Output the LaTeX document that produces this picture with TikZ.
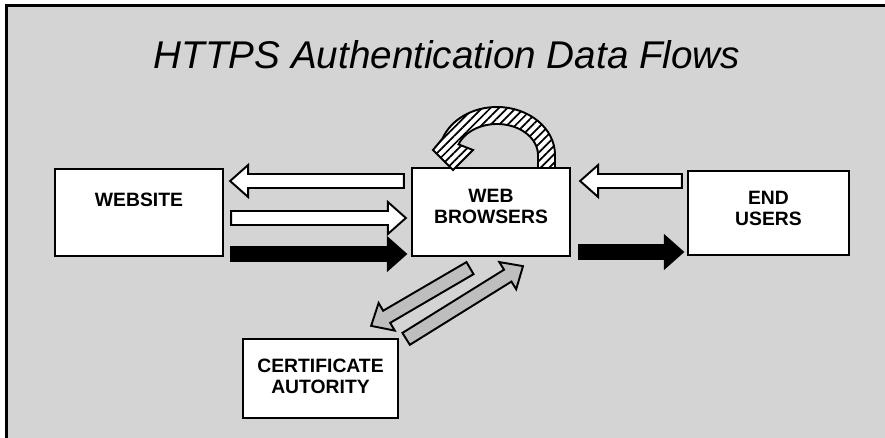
\documentclass[tikz,border=0pt]{standalone}
\usepackage{fontspec}
\setmainfont{Liberation Sans}
\usepackage{tikz}
\usetikzlibrary{calc,patterns.meta}

\definecolor{bggray}{RGB}{212,212,212}
\definecolor{flowgray}{RGB}{190,190,190}

\newcommand*{\shaftw}{0.14cm}
\newcommand*{\headw}{0.32cm}
\newcommand*{\headl}{0.36cm}
\newcommand{\blockarrow}[3][]{%
  \coordinate (ba-h) at ($(#3)!\headl!(#2)$);
  \draw[flow,#1] ($(#2)!\shaftw!90:(#3)$) -- ($(ba-h)!\shaftw!90:(#3)$)
    -- ($(ba-h)!\headw!90:(#3)$) -- (#3) -- ($(ba-h)!\headw!-90:(#3)$)
    -- ($(ba-h)!\shaftw!-90:(#3)$) -- ($(#2)!\shaftw!-90:(#3)$) -- cycle;}

\begin{document}
\begin{tikzpicture}[x=0.02cm, y=-0.02cm,
    box/.style={draw, fill=white, line width=1.3pt, inner sep=0pt},
    boxtext/.style={font=\bfseries\fontsize{11}{12}\selectfont, align=center},
    flow/.style={draw, line width=1.1pt, line join=miter}]
  \useasboundingbox (0,0) rectangle (885,438);
  \fill[bggray] (5,4) rectangle (885,438);
  \draw[line width=1.7pt] (6.5,438) -- (6.5,5.5) -- (885,5.5);
  \node[font=\itshape\fontsize{22}{26}\selectfont] (title) at (447,55) {HTTPS Authentication Data Flows};

  \node[box, minimum width=3.36cm, minimum height=1.74cm] (website) at (139,212.5) {};
  \node[box, minimum width=3.16cm, minimum height=1.76cm] (browser) at (491,212) {};
  \node[box, minimum width=3.22cm, minimum height=1.68cm] (users) at (768.5,213) {};
  \node[box, minimum width=3.1cm, minimum height=1.58cm] (ca) at (320.5,378.5) {};
  \node[boxtext] (website-txt) at ([yshift=0.25cm]website.center) {WEBSITE};
  \node[boxtext] (browser-txt) at ([yshift=0.11cm]browser.center) {WEB\\BROWSERS};
  \node[boxtext] (users-txt) at ([yshift=0.09cm]users.center) {END\\USERS};
  \node[boxtext] (ca-txt) at ([yshift=0.05cm]ca.center) {CERTIFICATE\\AUTORITY};

  \coordinate (wtop-a) at ($(browser.west)+(-7,-31)$);
  \coordinate (wtop-b) at ($(website.east)+(6,-31.5)$);
  \coordinate (wmid-a) at ($(website.east)+(7,5.5)$);
  \coordinate (wmid-b) at ($(browser.west)+(-5,6)$);
  \coordinate (wbot-a) at ($(website.east)+(7,41.5)$);
  \coordinate (wbot-b) at ($(browser.west)+(-5,42)$);
  \coordinate (utop-a) at ($(users.west)+(-5,-32)$);
  \coordinate (utop-b) at ($(browser.east)+(9,-31)$);
  \coordinate (ubot-a) at ($(browser.east)+(8,40)$);
  \coordinate (ubot-b) at ($(users.west)+(-4,39)$);
  \coordinate (cdown-a) at ($(browser.south)+(-21,11)$);
  \coordinate (cdown-b) at ($(ca.north east)+(-28,-12)$);
  \coordinate (cup-a) at ($(ca.north east)+(7,1)$);
  \coordinate (cup-b) at ($(browser.south)+(32,9)$);

  \blockarrow[fill=white]{wtop-a}{wtop-b}
  \blockarrow[fill=white]{wmid-a}{wmid-b}
  \blockarrow[fill=black]{wbot-a}{wbot-b}
  \blockarrow[fill=white]{utop-a}{utop-b}
  \blockarrow[fill=black]{ubot-a}{ubot-b}
  \blockarrow[fill=flowgray]{cdown-a}{cdown-b}
  \blockarrow[fill=flowgray]{cup-a}{cup-b}

  \draw[flow, fill=white, postaction={pattern={Lines[angle=45,distance=3.4pt,line width=1pt]}}]
    (555,168) -- (555,155) arc[start angle=0, end angle=-160, x radius=58, y radius=48]
    -- (433,150) -- (453,170) -- (473,150) -- (458.5,144.4)
    arc[start angle=-160, end angle=0, x radius=41, y radius=31] -- (538,168) -- cycle;
\end{tikzpicture}
\end{document}
